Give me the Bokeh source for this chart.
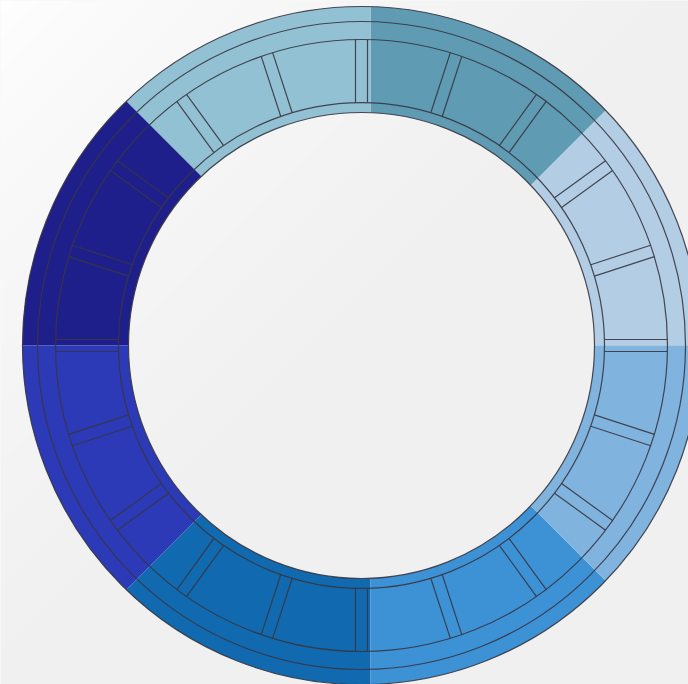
import numpy as np
from bokeh.plotting import figure
from bokeh.models import Range1d
from bokeh.embed import file_html
from bokeh.resources import INLINE

# ---- data -------------------------------------------------------------
categories = ["S1", "S2", "S3", "S4", "S5", "S6", "S7", "S8"]
values = [1, 1, 1, 1, 1, 1, 1, 1]
colors = ["#b3cee4", "#5f9bb2", "#93c1d4", "#1f1f8c",
          "#2c3ab7", "#116ab0", "#3d92d6", "#80b4de"]
start_angle_deg = 0.0

# ---- geometry / style ---------------------------------------------------
W, H = 688, 684
CX_SCREEN, CY_SCREEN = 361, 345          # ring centre inside the figure
SX, SY = 9.0, 0.0                         # apex of the colour sectors
R_OUT, R_IN = 339.0, 233.0
RING_RADII = [339, 324, 306, 243, 233]
TICK_R1, TICK_R2 = 243.0, 306.0
TICK_HALF_GAP = 6.0
N_TICK_PAIRS = 20
LINE_COLOR = "#363642"

x0 = -CX_SCREEN
x1 = W - CX_SCREEN
y1 = CY_SCREEN
y0 = CY_SCREEN - H

p = figure(width=W, height=H, x_range=Range1d(x0, x1), y_range=Range1d(y0, y1),
           output_backend="svg", toolbar_location=None, min_border=0)
p.axis.visible = False
p.grid.visible = False
p.outline_line_color = None
p.background_fill_color = "#f3f3f3"
p.border_fill_color = "#ffffff"

# ---- background gradient ----------------------------------------------
gx = np.arange(W)
gy = np.arange(H)
XX, YY = np.meshgrid(gx, gy)            # row 0 = bottom of plot
screen_x = XX
screen_y = H - YY
t = np.clip((screen_x + screen_y) / 720.0, 0, 1) ** 0.7
lum = (255 - 15 * t).astype(np.uint8)
img = np.empty((H, W), dtype=np.uint32)
view = img.view(dtype=np.uint8).reshape((H, W, 4))
view[:, :, 0] = lum
view[:, :, 1] = lum
view[:, :, 2] = lum
view[:, :, 3] = 255
p.image_rgba(image=[img], x=x0, y=y0, dw=W, dh=H)

# ---- colour sectors ------------------------------------------------------
def ray_hit(theta, r):
    dx, dy = np.cos(theta), np.sin(theta)
    b = SX * dx + SY * dy
    c = SX ** 2 + SY ** 2 - r ** 2
    tt = -b + np.sqrt(b * b - c)
    return SX + tt * dx, SY + tt * dy

total = float(sum(values))
xs, ys = [], []
acc = np.deg2rad(start_angle_deg)
for v in values:
    a0 = acc
    a1 = acc + 2 * np.pi * v / total
    th = np.linspace(a0, a1, 120)
    ox, oy = ray_hit(th, R_OUT)
    ix, iy = ray_hit(th[::-1], R_IN)
    xs.append(np.concatenate([ox, ix]).tolist())
    ys.append(np.concatenate([oy, iy]).tolist())
    acc = a1

p.patches(xs=xs, ys=ys, fill_color=colors, line_color=None)

# ---- concentric rings ----------------------------------------------------
p.circle(x=[0] * len(RING_RADII), y=[0] * len(RING_RADII), radius=RING_RADII,
         fill_color=None, line_color=LINE_COLOR, line_width=1.2, line_alpha=0.9)

# ---- tick pairs ------------------------------------------------------------
sx0, sy0, sx1, sy1 = [], [], [], []
for k in range(N_TICK_PAIRS):
    th = 2 * np.pi * k / N_TICK_PAIRS
    d = np.array([np.cos(th), np.sin(th)])
    n = np.array([-np.sin(th), np.cos(th)])
    for s in (-1, 1):
        a = d * TICK_R1 + s * TICK_HALF_GAP * n
        b = d * TICK_R2 + s * TICK_HALF_GAP * n
        sx0.append(a[0]); sy0.append(a[1]); sx1.append(b[0]); sy1.append(b[1])
p.segment(x0=sx0, y0=sy0, x1=sx1, y1=sy1, line_color=LINE_COLOR,
          line_width=1.2, line_alpha=0.9)

open("out.html", "w").write(file_html(p, INLINE))
